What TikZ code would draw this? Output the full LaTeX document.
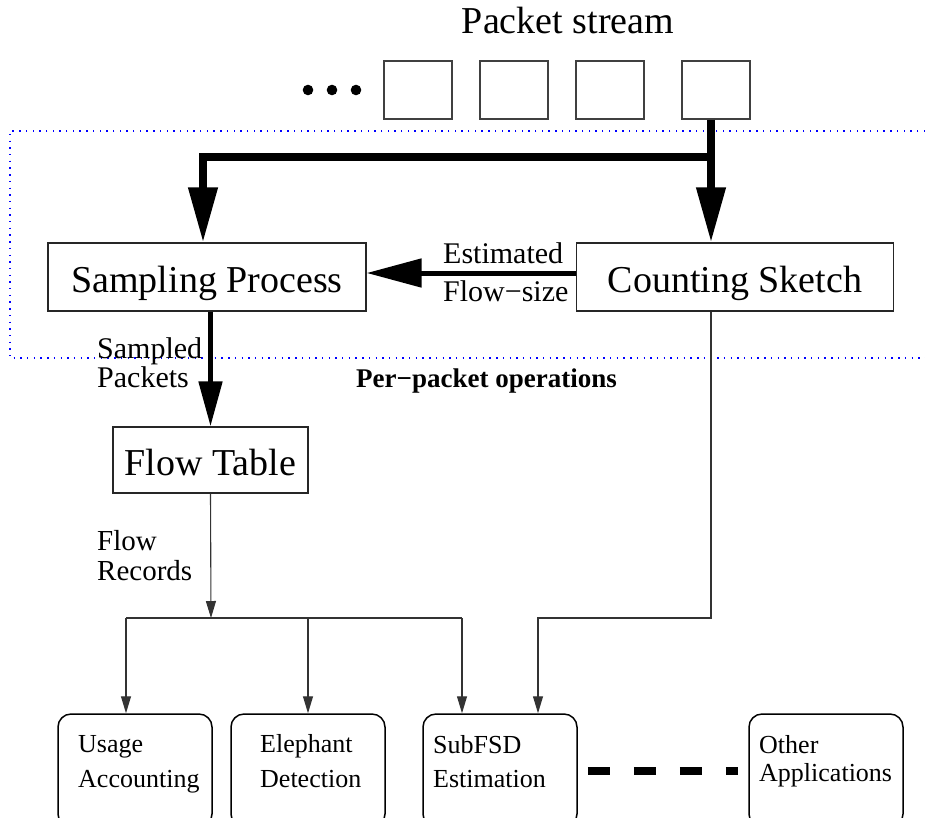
\documentclass[tikz,border=0pt]{standalone}
\usepackage{fontspec}
\setmainfont{Liberation Serif}
\usetikzlibrary{arrows.meta}
\newcommand{\fsz}[1]{\fontsize{#1}{#1}\selectfont}
\tikzset{
  box/.style={draw=black!85, line width=1.3pt, inner sep=0pt, text height=30pt, text depth=0pt, font=\fsz{38}},
  pkt/.style={draw=black!75, line width=1.3pt, minimum width=68pt, minimum height=58pt, inner sep=0pt},
  appbox/.style={draw=black, line width=1.5pt, rounded corners=13pt, minimum width=154pt, minimum height=113pt, inner sep=0pt},
  bigflow/.style={line width=7.5pt, line join=miter},
  medflow/.style={line width=5pt},
  bighead/.style={-{Triangle[length=55pt,width=28pt]}},
  medhead/.style={-{Triangle[length=45pt,width=23pt]}},
  thinflow/.style={line width=1.1pt, draw=black!80, -{Triangle[length=17pt,width=10pt]}},
  thinline/.style={line width=1.1pt, draw=black!80},
  lbl/.style={inner sep=0pt, font=\fsz{30}},
  applbl/.style={inner sep=0pt, anchor=base west, font=\fsz{26}},
  frame/.style={blue, line width=1.2pt, dash pattern=on 1.4pt off 5.3pt}
}
\begin{document}
\begin{tikzpicture}[x=1pt, y=-1pt]
\useasboundingbox (0,0) rectangle (925,817);
\clip (0,0) rectangle (925,817);

% per-packet frame
\draw[frame] (925,131) -- (10,131) -- (10,358) -- (925,358);

% packet stream
\node[lbl, anchor=base, font=\fsz{38}] (title) at (568,33) {Packet stream};
\fill (308,90) circle (5.3pt) (332,90) circle (5.3pt) (356,90) circle (5.3pt);
\node[pkt] (p1) at (418,90) {};
\node[pkt] (p2) at (514,90) {};
\node[pkt] (p3) at (610,90) {};
\node[pkt] (p4) at (716,90) {};

% main boxes
\node[box, minimum width=318pt, minimum height=68pt] (sp) at (207,277) {Sampling Process};
\node[box, minimum width=317pt, minimum height=68pt] (cs) at (735,277) {Counting Sketch};
\node[box, minimum width=195pt, minimum height=66pt] (ft) at (210.5,460) {Flow Table};

% application boxes
\node[appbox] (u) at (135,770.5) {};
\node[appbox] (e) at (308,770.5) {};
\node[appbox] (s) at (500,770.5) {};
\node[appbox] (o) at (826,770.5) {};

\node[applbl] (u1) at (78,752) {Usage};
\node[applbl] (u2) at (78,787) {Accounting};
\node[applbl] (e1) at (260,752) {Elephant};
\node[applbl] (e2) at (260,787) {Detection};
\node[applbl] (s1) at (433,753) {SubFSD};
\node[applbl] (s2) at (433,787) {Estimation};
\node[applbl] (o1) at (759,753) {Other};
\node[applbl] (o2) at (759,781) {Applications};

% labels
\node[lbl, anchor=base west] (est1) at (443,263) {Estimated};
\node[lbl, anchor=base west] (est2) at (443,301) {Flow−size};
\node[lbl, anchor=base west] (sam1) at (97,358) {Sampled};
\node[lbl, anchor=base west] (sam2) at (97,387) {Packets};
\node[lbl, anchor=base west, font=\fsz{27}\bfseries] (ppo) at (356,387) {Per−packet operations};
\node[lbl, anchor=base west, font=\fsz{29}] (fr1) at (97,550) {Flow};
\node[lbl, anchor=base west, font=\fsz{29}] (fr2) at (97,580) {Records};

% thick connectors
\coordinate (j) at (711,157);
\draw[bigflow, bighead] (p4.south -| j) -- (j |- cs.north);
\draw[bigflow, bighead] (j) -| ([xshift=-4pt]sp.north);
\draw[medflow, bighead] ([yshift=4pt]cs.west) -- ([yshift=4pt]sp.east);
\draw[medflow, medhead] (ft.north |- sp.south) -- (ft.north);

% thin connectors
\coordinate (h) at (211,618);
\coordinate (h1) at (126,618);
\coordinate (h3) at (462,618);
\coordinate (k) at (538,618);
\draw[thinflow] (ft.south) -- (h);
\draw[thinline] (h1) -- (h3);
\draw[thinflow] (h1) -- (h1 |- u.north);
\draw[thinflow] (e.north |- h1) -- (e.north);
\draw[thinflow] (h3) -- (h3 |- s.north);
\draw[thinflow] (cs.south -| j) |- (k) -- (k |- s.north);

% dashed link
\draw[line width=8pt, dash pattern=on 22pt off 24pt, shorten <=10pt, shorten >=10pt] (s.east) -- (o.west);
\end{tikzpicture}
\end{document}
